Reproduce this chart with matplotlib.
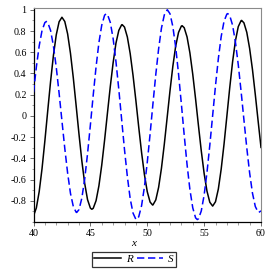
import matplotlib
matplotlib.use("Agg")
import matplotlib.pyplot as plt
from matplotlib.ticker import MultipleLocator, FixedLocator, FuncFormatter

# ---- data ----
R_x = [40.0, 40.25, 40.5, 40.75, 41.0, 41.25, 41.5, 41.75, 42.0, 42.25, 42.5,
       42.75, 43.0, 43.25, 43.5, 43.75, 44.0, 44.25, 44.5, 44.75, 45.0, 45.13,
       45.25, 45.5, 45.75, 46.0, 46.25, 46.5, 46.75, 47.0, 47.25, 47.5, 47.75, 47.8,
       48.0, 48.25, 48.5, 48.75, 49.0, 49.25, 49.5, 49.75, 50.0, 50.25, 50.47,
       50.5, 50.75, 51.0, 51.25, 51.5, 51.75, 52.0, 52.25, 52.5, 52.75, 53.0, 53.07,
       53.25, 53.5, 53.75, 54.0, 54.25, 54.5, 54.75, 55.0, 55.25, 55.5, 55.75,
       56.0, 56.25, 56.5, 56.75, 57.0, 57.25, 57.5, 57.75, 58.0, 58.25, 58.3,
       58.5, 58.75, 59.0, 59.25, 59.5, 59.75, 60.0]
R_y = [-0.943, -0.867, -0.714, -0.497, -0.235, 0.047, 0.323, 0.569, 0.764, 0.887, 0.93,
       0.890, 0.773, 0.590, 0.358, 0.095, -0.173, -0.425, -0.636, -0.789, -0.869, -0.88,
       -0.871, -0.799, -0.659, -0.463, -0.228, 0.026, 0.276, 0.501, 0.686, 0.806, 0.859, 0.86,
       0.837, 0.744, 0.588, 0.382, 0.145, -0.105, -0.344, -0.552, -0.714, -0.812, -0.84,
       -0.839, -0.792, -0.673, -0.492, -0.266, -0.015, 0.237, 0.468, 0.658, 0.787, 0.847, 0.85,
       0.831, 0.744, 0.594, 0.393, 0.159, -0.090, -0.330, -0.542, -0.709, -0.814, -0.85,
       -0.809, -0.689, -0.501, -0.266, -0.002, 0.264, 0.508, 0.707, 0.841, 0.898, 0.90,
       0.877, 0.788, 0.636, 0.437, 0.200, -0.051, -0.297]

S_x = [40.0, 40.25, 40.5, 40.75, 41.0, 41.13,
       41.25, 41.5, 41.75, 42.0, 42.25, 42.5, 42.75, 43.0, 43.25, 43.5, 43.75, 43.8,
       44.0, 44.25, 44.5, 44.75, 45.0, 45.25, 45.5, 45.75, 46.0, 46.25, 46.4,
       46.5, 46.75, 47.0, 47.25, 47.5, 47.75, 48.0, 48.25, 48.5, 48.75, 49.0, 49.05,
       49.25, 49.5, 49.75, 50.0, 50.25, 50.5, 50.75, 51.0, 51.25, 51.5, 51.75, 51.77,
       52.0, 52.25, 52.5, 52.75, 53.0, 53.25, 53.5, 53.75, 54.0, 54.25, 54.4,
       54.5, 54.75, 55.0, 55.25, 55.5, 55.75, 56.0, 56.25, 56.5, 56.75, 57.0, 57.08,
       57.25, 57.5, 57.75, 58.0, 58.25, 58.5, 58.75, 59.0, 59.25, 59.5, 59.75, 59.8, 60.0]
S_y = [0.222, 0.460, 0.660, 0.805, 0.880, 0.89,
       0.881, 0.806, 0.661, 0.459, 0.215, -0.047, -0.306, -0.539, -0.730, -0.854, -0.908, -0.91,
       -0.883, -0.775, -0.594, -0.358, -0.086, 0.196, 0.462, 0.690, 0.856, 0.949, 0.964,
       0.957, 0.882, 0.729, 0.511, 0.249, -0.035, -0.318, -0.571, -0.780, -0.916, -0.975, -0.977,
       -0.951, -0.847, -0.671, -0.439, -0.170, 0.114, 0.390, 0.633, 0.828, 0.952, 0.999, 1.0,
       0.963, 0.842, 0.648, 0.397, 0.112, -0.182, -0.459, -0.694, -0.866, -0.961, -0.977,
       -0.970, -0.896, -0.747, -0.534, -0.276, 0.005, 0.285, 0.540, 0.748, 0.892, 0.960, 0.964,
       0.946, 0.856, 0.697, 0.484, 0.231, -0.038, -0.301, -0.537, -0.728, -0.854, -0.908, -0.91, -0.895]

x_ticks = [40, 45, 50, 55, 60]
y_ticks = [-0.8, -0.6, -0.4, -0.2, 0, 0.2, 0.4, 0.6, 0.8, 1]
series_labels = ["R", "S"]

serif = ["Liberation Serif", "DejaVu Serif"]

fig = plt.figure(figsize=(2.70, 2.74), dpi=100)
ax = fig.add_axes([33.5/270, 1-222/274, (261-33.5)/270, (222-7.7)/274])

lR, = ax.plot(R_x, R_y, color="black", lw=1.1, zorder=3)
lS, = ax.plot(S_x, S_y, color="#0000ff", lw=1.1, dashes=(4.8, 2.4), zorder=3)

ax.set_xlim(40, 60)
ax.set_ylim(-1.0, 1.02)

ax.xaxis.set_major_locator(FixedLocator(x_ticks))
ax.xaxis.set_minor_locator(MultipleLocator(1))
ax.yaxis.set_major_locator(FixedLocator(y_ticks))
ax.yaxis.set_minor_locator(MultipleLocator(0.1))

def yfmt(v, pos):
    if abs(v - round(v)) < 1e-9:
        return "%d" % round(v)
    return "%.1f" % v
ax.yaxis.set_major_formatter(FuncFormatter(yfmt))

ax.tick_params(axis="both", which="major", direction="out", length=3, width=0.6,
               labelsize=7.2, pad=2, color="#555555")
ax.tick_params(axis="both", which="minor", direction="out", length=1.8, width=0.5,
               color="#777777")
for lab in ax.get_xticklabels() + ax.get_yticklabels():
    lab.set_family(serif)

for side in ["left", "bottom"]:
    ax.spines[side].set_color("black")
    ax.spines[side].set_linewidth(0.9)
for side in ["top", "right"]:
    ax.spines[side].set_color("#8a8a8a")
    ax.spines[side].set_linewidth(0.8)

fig.text(134/270, 1-243/274, "x", ha="center", va="center", fontsize=8,
         style="italic", family=serif)

leg = fig.legend([lR, lS], series_labels, loc="center", bbox_to_anchor=(134/270, 1-259.5/274),
                 ncol=2, frameon=True, fancybox=False, edgecolor="black",
                 handlelength=2.4, handletextpad=0.4, columnspacing=0.4,
                 borderpad=0.25, borderaxespad=0,
                 prop={"family": serif, "style": "italic", "size": 8})
leg.get_frame().set_linewidth(0.9)

fig.savefig("out.png", dpi=100)
